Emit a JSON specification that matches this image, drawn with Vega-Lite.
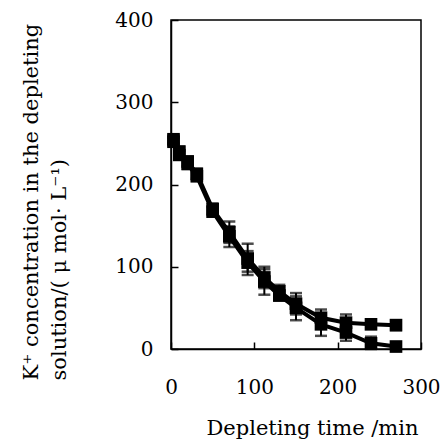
{
  "$schema": "https://vega.github.io/schema/vega-lite/v6.json",
  "width": 250,
  "height": 329,
  "autosize": {"type": "none"},
  "padding": {"left": 171, "top": 20, "right": 21, "bottom": 91},
  "background": "white",
  "config": {
    "view": {"stroke": "black", "strokeWidth": 1.5},
    "font": "DejaVu Serif",
    "axis": {
      "grid": false,
      "domainColor": "black",
      "domainWidth": 1.5,
      "tickColor": "black",
      "tickWidth": 1.5,
      "tickSize": -7,
      "labelFlush": false,
      "labelColor": "black",
      "labelFont": "DejaVu Serif",
      "labelFontSize": 20,
      "titleColor": "black",
      "titleFont": "DejaVu Serif",
      "titleFontSize": 21,
      "titleFontWeight": "normal"
    }
  },
  "data": {
    "values": [
      {"t": 3, "s": "A", "v": 255, "lo": 250, "hi": 260},
      {"t": 10, "s": "A", "v": 240, "lo": 234, "hi": 246},
      {"t": 20, "s": "A", "v": 228, "lo": 222, "hi": 234},
      {"t": 31, "s": "A", "v": 213, "lo": 207, "hi": 219},
      {"t": 50, "s": "A", "v": 170, "lo": 163, "hi": 177},
      {"t": 70, "s": "A", "v": 142, "lo": 129, "hi": 155},
      {"t": 92, "s": "A", "v": 110, "lo": 94, "hi": 128},
      {"t": 112, "s": "A", "v": 87, "lo": 74, "hi": 100},
      {"t": 130, "s": "A", "v": 70, "lo": 62, "hi": 78},
      {"t": 150, "s": "A", "v": 55, "lo": 42, "hi": 68},
      {"t": 180, "s": "A", "v": 38, "lo": 28, "hi": 48},
      {"t": 210, "s": "A", "v": 32, "lo": 22, "hi": 42},
      {"t": 240, "s": "A", "v": 30, "lo": 25, "hi": 36},
      {"t": 270, "s": "A", "v": 29, "lo": 23, "hi": 35},
      {"t": 3, "s": "B", "v": 252, "lo": 247, "hi": 257},
      {"t": 10, "s": "B", "v": 236, "lo": 231, "hi": 241},
      {"t": 20, "s": "B", "v": 225, "lo": 219, "hi": 231},
      {"t": 31, "s": "B", "v": 210, "lo": 205, "hi": 215},
      {"t": 50, "s": "B", "v": 167, "lo": 161, "hi": 173},
      {"t": 70, "s": "B", "v": 137, "lo": 124, "hi": 149},
      {"t": 92, "s": "B", "v": 105, "lo": 90, "hi": 119},
      {"t": 112, "s": "B", "v": 82, "lo": 66, "hi": 97},
      {"t": 130, "s": "B", "v": 65, "lo": 59, "hi": 71},
      {"t": 150, "s": "B", "v": 50, "lo": 35, "hi": 64},
      {"t": 180, "s": "B", "v": 30, "lo": 16, "hi": 43},
      {"t": 210, "s": "B", "v": 20, "lo": 10, "hi": 30},
      {"t": 240, "s": "B", "v": 7, "lo": 0, "hi": 15},
      {"t": 270, "s": "B", "v": 3, "lo": 0, "hi": 6}
    ]
  },
  "encoding": {
    "x": {
      "field": "t", "type": "quantitative",
      "scale": {"domain": [0, 300], "nice": false},
      "axis": {
        "values": [0, 100, 200, 300],
        "labelPadding": 35,
        "title": "Depleting time /min",
        "titleX": 141,
        "titleY": 85,
        "titleBaseline": "alphabetic",
        "titleAnchor": null
      }
    },
    "y": {
      "field": "v", "type": "quantitative",
      "scale": {"domain": [0, 400], "nice": false},
      "axis": {
        "values": [0, 100, 200, 300, 400],
        "labelPadding": 25,
        "title": ["K⁺ concentration in the depleting", "solution/( μ mol· L⁻¹)"],
        "titleAngle": 270,
        "titleAlign": "left",
        "titleBaseline": "alphabetic",
        "titleLineHeight": 28,
        "titleX": -134,
        "titleY": 360
      }
    }
  },
  "layer": [
    {
      "mark": {"type": "rule", "color": "black", "strokeWidth": 2},
      "encoding": {"y": {"field": "lo", "type": "quantitative"}, "y2": {"field": "hi"}}
    },
    {
      "mark": {"type": "tick", "color": "black", "orient": "horizontal", "size": 12, "thickness": 2.5},
      "encoding": {"y": {"field": "lo", "type": "quantitative"}}
    },
    {
      "mark": {"type": "tick", "color": "black", "orient": "horizontal", "size": 12, "thickness": 2.5},
      "encoding": {"y": {"field": "hi", "type": "quantitative"}}
    },
    {
      "mark": {"type": "line", "color": "black", "strokeWidth": 4},
      "encoding": {"detail": {"field": "s"}}
    },
    {
      "mark": {"type": "point", "shape": "square", "filled": true, "color": "black", "opacity": 1, "size": 160},
      "encoding": {"detail": {"field": "s"}}
    }
  ]
}
